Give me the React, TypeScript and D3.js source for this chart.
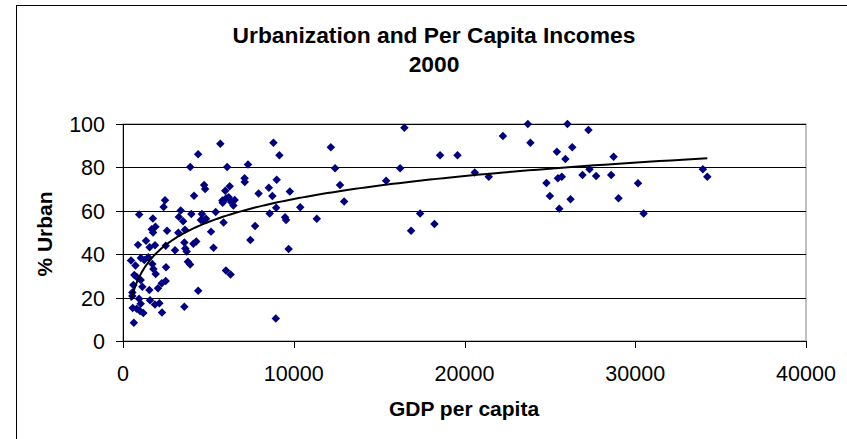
import React from "react";
import * as d3 from "d3";

// GDP per capita (x) and % urban (y)
const gdp: number[] = [
  // sparse right / middle
  33960, 34220, 30490, 30160, 29020, 28730, 28590, 27710, 27320, 27260,
  26910, 26310, 26210, 26030, 25910, 25700, 25470, 25550, 25410, 25000,
  24800, 23860, 23710, 22250, 21420, 20600, 19590, 18570, 18240, 17400,
  16870, 16480, 16230, 15410, 12950, 12710, 12420, 12170, 11350, 10380,
  9770, 9700, 9550, 9490, 9160, 9000, 8970, 8950, 8810, 8749,
  8590, 8540, 7940, 7734, 7460, 7320, 7130, 7120, 6542, 6464,
  6328, 6300, 6250, 6191, 6100, 6035, 6030, 5990, 5890, 5839,
  5820, 5700, 5429, 5300, 5156, 4860, 4810, 4750, 4710, 4620,
  4560, 4400, 4404, 4290, 4160, 4120, 4000, 3940, 3930, 3800,
  3730, 3650, 3632, 3593, 3593, 3520, 3380, 3270, 3240, 3047,
  2580, 2520, 2500, 2500, 2460, 2380, 2286, 2270, 2129, 2050,
  1914, 1900, 1875, 1870, 1778, 1760, 1750, 1719, 1680, 1582,
  1560, 1543, 1484, 1348, 1250, 1191, 1133, 1045, 1035, 1035,
  996, 947, 940, 879, 801, 801, 730, 664, 635, 605,
  567, 547, 547, 469,
];
const urban: number[] = [
  79.1, 75.7, 58.8, 72.7, 65.8, 84.9, 76.5, 76.0, 79.1, 97.2,
  76.5, 89.3, 65.3, 100, 83.9, 75.7, 75.0, 61.0, 87.2, 66.8,
  72.8, 91.4, 100, 94.5, 75.7, 77.7, 85.6, 85.6, 53.9, 58.8,
  50.8, 98.3, 79.6, 73.9, 64.3, 71.9, 79.6, 89.3, 56.3, 61.6,
  68.9, 42.4, 55.8, 57.0, 85.6, 74.3, 61.4, 10.4, 91.4, 66.8,
  58.8, 70.6, 68.0, 53.0, 46.5, 81.3, 73.3, 75.0, 65.0, 62.4,
  64.1, 30.6, 71.3, 66.2, 80.2, 65.8, 32.5, 69.2, 54.6, 63.7,
  64.8, 90.9, 59.4, 43.0, 50.4, 56.3, 70.0, 71.9, 55.4, 58.5,
  55.8, 86.1, 23.2, 45.8, 66.9, 44.8, 58.5, 80.2, 35.2, 36.5,
  41.2, 42.6, 51.3, 45.4, 15.8, 55.2, 60.1, 57.2, 49.9, 41.8,
  50.8, 34.0, 43.9, 27.6, 64.9, 61.7, 13.1, 26.6, 17.4, 24.3,
  30.9, 52.7, 44.1, 16.8, 33.2, 50.0, 56.4, 35.5, 51.5, 18.8,
  43.2, 23.5, 38.6, 46.2, 37.3, 12.9, 25.0, 38.3, 28.1, 17.2,
  13.8, 58.3, 19.5, 44.3, 29.5, 14.9, 34.8, 30.4, 8.4, 25.8,
  15.2, 22.3, 20.7, 37.1,
];

const xTicks: number[] = [0, 10000, 20000, 30000, 40000];
const yTicks: number[] = [0, 20, 40, 60, 80, 100];
const titleLines: string[] = ["Urbanization and Per Capita Incomes", "2000"];
const xTitle = "GDP per capita";
const yTitle = "% Urban";

const FONT = "'Liberation Sans', Arial, sans-serif";

export default function App() {
  const W = 847;
  const H = 439;
  const x = d3.scaleLinear().domain([0, 40000]).range([123, 806]);
  const y = d3.scaleLinear().domain([0, 100]).range([341, 124]);

  const pts = gdp.map((g, i) => ({ g, u: urban[i] }));

  // logarithmic trend line (least squares fit of urban on ln(gdp))
  const lx = pts.map((p) => Math.log(p.g));
  const mx = d3.mean(lx) as number;
  const my = d3.mean(urban) as number;
  let sxy = 0;
  let sxx = 0;
  lx.forEach((v, i) => {
    sxy += (v - mx) * (urban[i] - my);
    sxx += (v - mx) * (v - mx);
  });
  const a = sxy / sxx;
  const b = my - a * mx;
  const [gMin, gMax] = d3.extent(gdp) as [number, number];
  const trendPts = d3.range(0, 201).map((k) => {
    const g = Math.exp(Math.log(gMin) + (k / 200) * (Math.log(gMax) - Math.log(gMin)));
    return [g, a * Math.log(g) + b] as [number, number];
  });
  const line = d3
    .line<[number, number]>()
    .x((d) => x(d[0]))
    .y((d) => y(d[1]));

  const diamond = d3.symbol().type(d3.symbolSquare).size(36)() as string;

  return (
    <svg
      width={W}
      height={H}
      style={{ position: "absolute", left: 0, top: 0, background: "#fff" }}
      fontFamily={FONT}
    >
      <rect x={0} y={0} width={W} height={H} fill="#fff" />
      <rect x={16.5} y={5.5} width={860} height={460} fill="#fff" stroke="#000" strokeWidth={1} />

      {/* title */}
      <text x={434} y={43} textAnchor="middle" fontSize={22.8} fontWeight="bold" fill="#000">
        {titleLines[0]}
      </text>
      <text x={434} y={72} textAnchor="middle" fontSize={22.8} fontWeight="bold" fill="#000">
        {titleLines[1]}
      </text>

      {/* plot area */}
      <rect x={123} y={124} width={683} height={217} fill="#fff" stroke="#808080" strokeWidth={1} />
      {yTicks
        .filter((t) => t > 0)
        .map((t) => (
          <line key={"g" + t} x1={123} x2={806} y1={Math.round(y(t)) + 0.5} y2={Math.round(y(t)) + 0.5} stroke="#000" strokeWidth={1} />
        ))}

      {/* axes */}
      <line x1={123.5} x2={123.5} y1={124} y2={341} stroke="#000" />
      <line x1={123} x2={806} y1={341.5} y2={341.5} stroke="#000" />
      {yTicks.map((t) => (
        <g key={"y" + t}>
          <line x1={116} x2={123} y1={Math.round(y(t)) + 0.5} y2={Math.round(y(t)) + 0.5} stroke="#000" />
          <text x={105} y={y(t) + 8} textAnchor="end" fontSize={21.5} fill="#000">
            {t}
          </text>
        </g>
      ))}
      {xTicks.map((t) => (
        <g key={"x" + t}>
          <line x1={Math.round(x(t)) + 0.5} x2={Math.round(x(t)) + 0.5} y1={341} y2={348} stroke="#000" />
          <text x={x(t)} y={381} textAnchor="middle" fontSize={21.5} fill="#000">
            {t}
          </text>
        </g>
      ))}

      {/* axis titles */}
      <text x={464} y={416} textAnchor="middle" fontSize={21} fontWeight="bold" fill="#000">
        {xTitle}
      </text>
      <text
        transform={`translate(52,234) rotate(-90)`}
        textAnchor="middle"
        fontSize={21}
        fontWeight="bold"
        fill="#000"
      >
        {yTitle}
      </text>

      {/* points */}
      {pts.map((p, i) => (
        <path
          key={"p" + i}
          d={diamond}
          transform={`translate(${x(p.g)},${y(p.u)}) rotate(45)`}
          fill="#000080"
        />
      ))}

      {/* trend line */}
      <path d={line(trendPts) || ""} fill="none" stroke="#000" strokeWidth={2} />
    </svg>
  );
}
